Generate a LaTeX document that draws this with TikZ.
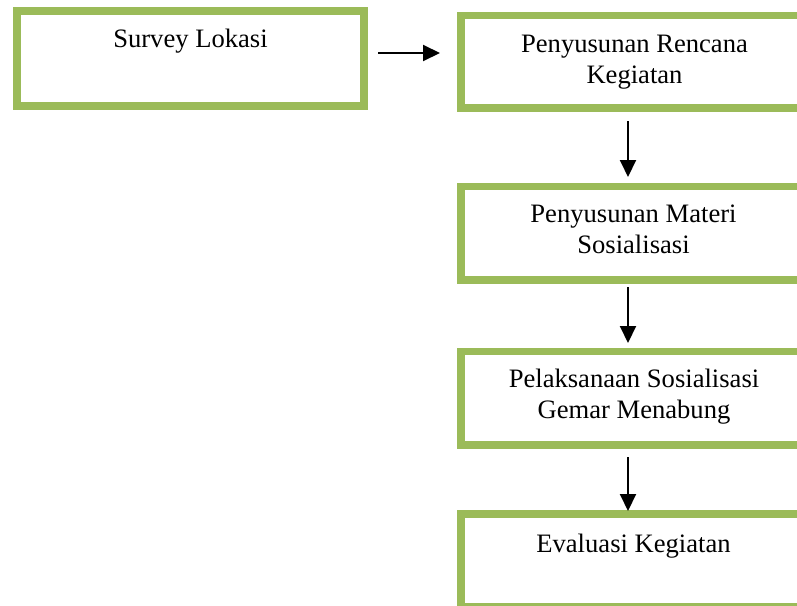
\documentclass[tikz,border=0pt]{standalone}
\usepackage{fontspec}
\setmainfont{Liberation Serif}
\usetikzlibrary{arrows.meta,calc}
\definecolor{boxgreen}{HTML}{9BBB59}
\begin{document}
\begin{tikzpicture}[x=1pt,y=-1pt,
  box/.style={draw=boxgreen,line width=7.5pt,minimum width=347pt,inner sep=0pt,outer sep=0pt,anchor=north west},
  lbl/.style={anchor=base,align=center,font=\fontsize{26.6pt}{30.6pt}\selectfont,inner sep=0pt},
  arr/.style={line width=2pt,-{Triangle[length=17pt,width=16pt]}}]
\useasboundingbox (0,0) rectangle (797,605);
\clip (0,0) rectangle (797,605);
\fill[white] (0,0) rectangle (797,605);
\node[box,minimum height=95pt] (s) at (17,11) {};
\node[box,minimum height=92.5pt] (r1) at (461,15.5) {};
\node[box,minimum height=93.5pt] (r2) at (461,186.5) {};
\node[box,minimum height=93.5pt] (r3) at (461,351.5) {};
\node[box,minimum height=93pt] (r4) at (461,514) {};
\node[lbl] (ts) at ($(s.north)+(0,36)$) {Survey Lokasi};
\node[lbl] (t1) at ($(r1.north)+(0,68)$) {Penyusunan Rencana\\Kegiatan};
\node[lbl] (t2) at ($(r2.north)+(-1,67)$) {Penyusunan Materi\\Sosialisasi};
\node[lbl] (t3) at ($(r3.north)+(-0.5,66.5)$) {Pelaksanaan Sosialisasi\\Gemar Menabung};
\node[lbl] (t4) at ($(r4.north)+(-1,38)$) {Evaluasi Kegiatan};
\coordinate (ay) at (0,53);
\coordinate (ax) at (628,0);
\draw[arr,shorten <=14pt,shorten >=21pt] (s.east |- ay) -- (r1.west |- ay);
\draw[arr,shorten <=13pt,shorten >=9.5pt] (r1.south -| ax) -- (r2.north -| ax);
\draw[arr,shorten <=7pt,shorten >=8.5pt] (r2.south -| ax) -- (r3.north -| ax);
\draw[arr,shorten <=12pt,shorten >=3pt] (r3.south -| ax) -- (r4.north -| ax);
\end{tikzpicture}
\end{document}
